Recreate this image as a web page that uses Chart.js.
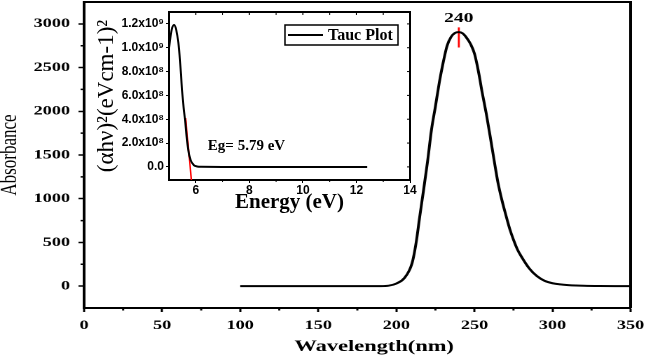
<!DOCTYPE html>
<html>
<head>
<meta charset="utf-8">
<script src="https://cdn.jsdelivr.net/npm/chart.js@4.4.1/dist/chart.umd.min.js"></script>
<style>
  html, body { margin: 0; padding: 0; background: #fff; }
  #wrap { position: relative; width: 646px; height: 358px; overflow: hidden; }
  /* the original figure is stretched sideways, so the main plot is too */
  #mainBox { position: absolute; left: 0; top: 0; width: 461px; height: 358px; transform: scaleX(1.4013); transform-origin: 0 0; }
  #insetBox { position: absolute; left: 92px; top: 4px; width: 330px; height: 214px; }
</style>
</head>
<body>
<div id="wrap">
  <div id="mainBox"><canvas id="mainChart" width="461" height="358"></canvas></div>
  <div id="insetBox"><canvas id="taucChart" width="330" height="214"></canvas></div>
</div>
<script>
// main spectrum
const waveNm = [100, 150, 190, 195, 200, 205, 210, 212.5, 215, 217.5, 220, 222.5, 225, 227.5, 230, 232.5, 235, 237.5, 240, 242.5, 245, 247.5, 250, 252.5, 255, 257.5, 260, 262.5, 265, 267.5, 270, 272.5, 275, 277.5, 280, 285, 290, 295, 300, 305, 310, 315, 320, 330, 340, 350];
const absorbance = [0, 0, 0, 5, 30, 90, 260, 480, 800, 1110, 1430, 1790, 2055, 2330, 2560, 2750, 2850, 2895, 2905, 2890, 2840, 2770, 2660, 2460, 2210, 1980, 1720, 1450, 1190, 990, 820, 660, 530, 420, 340, 205, 115, 60, 33, 20, 12, 7, 4, 1, 0, 0];
const peakNm = 240;
const peakMarkNm = [240, 240];
const peakMarkAbs = [2960, 2730];
const xTicks = [0, 50, 100, 150, 200, 250, 300, 350];
const xMinor = [25, 75, 125, 175, 225, 275, 325];
const yTicks = [0, 500, 1000, 1500, 2000, 2500, 3000];
const yMinor = [250, 750, 1250, 1750, 2250, 2750];

// inset: Tauc plot
const tauEnergy = [5.0, 5.1, 5.19, 5.27, 5.35, 5.41, 5.47, 5.53, 5.6, 5.66, 5.72, 5.81, 5.93, 6.05, 6.2, 7, 8, 9, 10, 11, 12, 12.4];
const tauValue = [1.0e9, 1.15e9, 1.19e9, 1.15e9, 1.04e9, 8.97e8, 7.0e8, 5.33e8, 3.93e8, 2.52e8, 1.4e8, 5.6e7, 1.4e7, 4e6, 1e6, 0, 0, 0, 0, 0, 0, 0];
const fitEnergy = [5.62, 5.836];
const fitValue = [4.1e8, -1.1e8];
const tauXTicks = [6, 8, 10, 12, 14];
const tauXMinor = [7, 9, 11, 13];
const tauYTicks = [0, 2e8, 4e8, 6e8, 8e8, 1e9, 1.2e9];
const tauYLabels = ['0.0', '2.0x10⁸', '4.0x10⁸', '6.0x10⁸', '8.0x10⁸', '1.0x10⁹', '1.2x10⁹'];
const bandGap = 'Eg= 5.79 eV';

const serif = '"Liberation Serif", "Times New Roman", serif';
const sans = '"Liberation Sans", Arial, sans-serif';
const pts = (xs, ys) => xs.map((x, i) => ({ x: x, y: ys[i] }));

// keep the plot box where it is in the picture, whatever the labels want
const fixX = h => s => { s.height = h; s.paddingLeft = 0; s.paddingRight = 0; };
const fixY = w => s => { s.width = w; s.paddingTop = 0; s.paddingBottom = 0; };

const mainDecor = {
    id: 'mainDecor',
    afterDraw(chart) {
        const { ctx, chartArea: a, scales: { x, y } } = chart;
        ctx.save();
        ctx.strokeStyle = '#000';
        ctx.lineWidth = 2;
        ctx.beginPath();
        ctx.moveTo(a.left, a.top);
        ctx.lineTo(a.right, a.top);
        ctx.lineTo(a.right, a.bottom);
        ctx.stroke();

        // minor ticks
        ctx.lineWidth = 1.5;
        ctx.beginPath();
        xMinor.forEach(v => {
            const px = x.getPixelForValue(v);
            ctx.moveTo(px, a.bottom);
            ctx.lineTo(px, a.bottom + 2.5);
        });
        yMinor.forEach(v => {
            const py = y.getPixelForValue(v);
            ctx.moveTo(a.left, py);
            ctx.lineTo(a.left - 2.5, py);
        });
        ctx.stroke();

        ctx.fillStyle = '#000';
        ctx.textAlign = 'center';
        ctx.textBaseline = 'middle';
        ctx.font = 'bold 14px ' + serif;
        ctx.fillText(String(peakNm), x.getPixelForValue(peakNm), y.getPixelForValue(3060));
        ctx.font = 'bold 16px ' + serif;
        ctx.fillText('Wavelength(nm)', (a.left + a.right) / 2 + 12, 347);
        ctx.restore();
    }
};

new Chart(document.getElementById('mainChart'), {
    type: 'line',
    data: {
        datasets: [{
            label: 'Absorbance',
            data: pts(waveNm, absorbance),
            borderColor: '#000',
            borderWidth: 2,
            pointRadius: 0,
            cubicInterpolationMode: 'monotone'
        }, {
            label: 'peak',
            data: pts(peakMarkNm, peakMarkAbs),
            borderColor: '#ff0000',
            borderWidth: 1.4,
            pointRadius: 0
        }]
    },
    options: {
        responsive: false,
        devicePixelRatio: 2,
        animation: false,
        events: [],
        layout: { padding: { top: 2, right: 11, left: 0, bottom: 0 } },
        plugins: { legend: { display: false }, tooltip: { enabled: false } },
        scales: {
            x: {
                type: 'linear',
                min: 0,
                max: 350,
                afterFit: fixX(50),
                afterBuildTicks: s => { s.ticks = xTicks.map(v => ({ value: v })); },
                grid: { drawOnChartArea: false, tickLength: 4, tickWidth: 1.5, tickColor: '#000' },
                border: { color: '#000', width: 2 },
                ticks: {
                    autoSkip: false, maxRotation: 0, padding: 6, color: '#000',
                    font: { family: serif, size: 13, weight: 'bold' },
                    callback: v => String(v)
                }
            },
            y: {
                min: -250,
                max: 3250,
                afterFit: fixY(60),
                afterBuildTicks: s => { s.ticks = yTicks.map(v => ({ value: v })); },
                grid: { drawOnChartArea: false, tickLength: 4, tickWidth: 1.5, tickColor: '#000' },
                border: { color: '#000', width: 2 },
                ticks: {
                    padding: 6, color: '#000',
                    font: { family: serif, size: 13, weight: 'bold' },
                    callback: v => String(v)
                },
                title: {
                    display: true,
                    text: 'Absorbance',
                    color: '#000',
                    padding: { top: 0, bottom: 0 },
                    font: { family: serif, size: 17, lineHeight: 0.85 }
                }
            }
        }
    },
    plugins: [mainDecor]
});

const insetDecor = {
    id: 'insetDecor',
    afterDraw(chart) {
        const { ctx, chartArea: a, scales: { x, y } } = chart;
        ctx.save();
        ctx.strokeStyle = '#000';
        ctx.lineWidth = 2;
        ctx.beginPath();
        ctx.moveTo(a.left, a.top);
        ctx.lineTo(a.right, a.top);
        ctx.lineTo(a.right, a.bottom);
        ctx.stroke();

        // inward ticks on the mirrored axes, short outward minor ticks below
        ctx.lineWidth = 1;
        ctx.beginPath();
        tauXTicks.concat(tauXMinor).forEach(v => {
            const px = x.getPixelForValue(v);
            ctx.moveTo(px, a.top);
            ctx.lineTo(px, a.top + 3);
        });
        tauXMinor.forEach(v => {
            const px = x.getPixelForValue(v);
            ctx.moveTo(px, a.bottom);
            ctx.lineTo(px, a.bottom + 2);
        });
        tauYTicks.forEach(v => {
            const py = y.getPixelForValue(v);
            ctx.moveTo(a.right, py);
            ctx.lineTo(a.right - 3, py);
        });
        ctx.stroke();

        // legend box
        const bx = a.right - 125, by = a.top + 13, bw = 113, bh = 20;
        ctx.lineWidth = 1.5;
        ctx.strokeRect(bx, by, bw, bh);
        ctx.lineWidth = 2;
        ctx.beginPath();
        ctx.moveTo(bx + 3, by + bh / 2);
        ctx.lineTo(bx + 38, by + bh / 2);
        ctx.stroke();
        ctx.fillStyle = '#000';
        ctx.textAlign = 'left';
        ctx.textBaseline = 'middle';
        ctx.font = 'bold 16px ' + serif;
        ctx.fillText(chart.data.datasets[0].label, bx + 43, by + bh / 2 + 1);

        ctx.textBaseline = 'alphabetic';
        ctx.font = 'bold 15px ' + serif;
        ctx.fillText(bandGap, x.getPixelForValue(6.45), y.getPixelForValue(1.4e8));
        ctx.restore();
    }
};

new Chart(document.getElementById('taucChart'), {
    type: 'line',
    data: {
        datasets: [{
            label: 'Tauc Plot',
            data: pts(tauEnergy, tauValue),
            borderColor: '#000',
            borderWidth: 2,
            pointRadius: 0,
            cubicInterpolationMode: 'monotone'
        }, {
            label: 'fit',
            data: pts(fitEnergy, fitValue),
            borderColor: '#ff0000',
            borderWidth: 1.5,
            pointRadius: 0
        }]
    },
    options: {
        responsive: false,
        animation: false,
        events: [],
        layout: { padding: { top: 8, right: 12, left: 0, bottom: 0 } },
        plugins: { legend: { display: false }, tooltip: { enabled: false } },
        scales: {
            x: {
                type: 'linear',
                min: 5,
                max: 14,
                afterFit: fixX(38),
                afterBuildTicks: s => { s.ticks = tauXTicks.map(v => ({ value: v })); },
                grid: { drawOnChartArea: false, tickLength: 3, tickColor: '#000' },
                border: { color: '#000', width: 2 },
                ticks: { autoSkip: false, maxRotation: 0, padding: 0, color: '#000', font: { family: sans, size: 12, weight: 'bold' } },
                title: {
                    display: true,
                    text: 'Energy (eV)',
                    color: '#000',
                    padding: { top: 0, bottom: 5 },
                    font: { family: serif, size: 21, weight: 'bold', lineHeight: 1 }
                }
            },
            y: {
                min: -1.1e8,
                max: 1.3e9,
                afterFit: fixY(77),
                afterBuildTicks: s => { s.ticks = tauYTicks.map(v => ({ value: v })); },
                grid: { drawOnChartArea: false, tickLength: 3, tickColor: '#000' },
                border: { color: '#000', width: 2 },
                ticks: {
                    padding: 2,
                    color: '#000',
                    font: { family: sans, size: 12, weight: 'bold' },
                    callback: (v, i) => tauYLabels[i]
                },
                title: {
                    display: true,
                    text: '(αhν)²(eVcm-1)²',
                    color: '#000',
                    padding: { top: 3, bottom: 0 },
                    font: { family: serif, size: 23, lineHeight: 1 }
                }
            }
        }
    },
    plugins: [insetDecor]
});
</script>
</body>
</html>
